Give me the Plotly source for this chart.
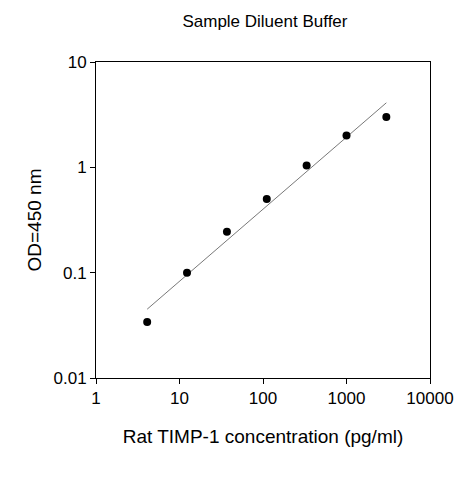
import plotly.graph_objects as go

conc = [4.1, 12.3, 37, 111, 333, 1000, 3000]
od = [0.034, 0.1, 0.245, 0.5, 1.04, 2.0, 3.0]
fit_x = [4.1, 3000]
fit_y = [0.045, 4.1]

F = "Arial, Liberation Sans"
fig = go.Figure()
fig.add_trace(go.Scatter(x=fit_x, y=fit_y, mode="lines", line=dict(color="#555", width=0.8), showlegend=False))
fig.add_trace(go.Scatter(x=conc, y=od, mode="markers", marker=dict(color="black", size=8), showlegend=False))
ax = dict(type="log", showgrid=False, zeroline=False, showline=True, mirror=True, linecolor="black", linewidth=1,
          ticks="outside", ticklen=5, tickcolor="black", tickfont=dict(family=F, size=17, color="black"))
fig.update_xaxes(**ax, range=[0, 4], tickvals=[1, 10, 100, 1000, 10000], ticktext=["1", "10", "100", "1000", "10000"],
                 title=dict(text="Rat TIMP-1 concentration (pg/ml)", font=dict(family=F, size=19, color="black"), standoff=22))
fig.update_yaxes(**ax, range=[-2, 1], tickvals=[0.01, 0.1, 1, 10], ticktext=["0.01", "0.1", "1", "10"],
                 title=dict(text="OD=450 nm", font=dict(family=F, size=19, color="black"), standoff=6))
fig.update_layout(width=463, height=480, margin=dict(l=88, r=41, t=54, b=110), plot_bgcolor="white", paper_bgcolor="white",
                  title=dict(text="Sample Diluent Buffer", x=0.555, xanchor="center", y=0.985, yanchor="top",
                             font=dict(family=F, size=17, color="black")))
fig.write_html("out.html")
